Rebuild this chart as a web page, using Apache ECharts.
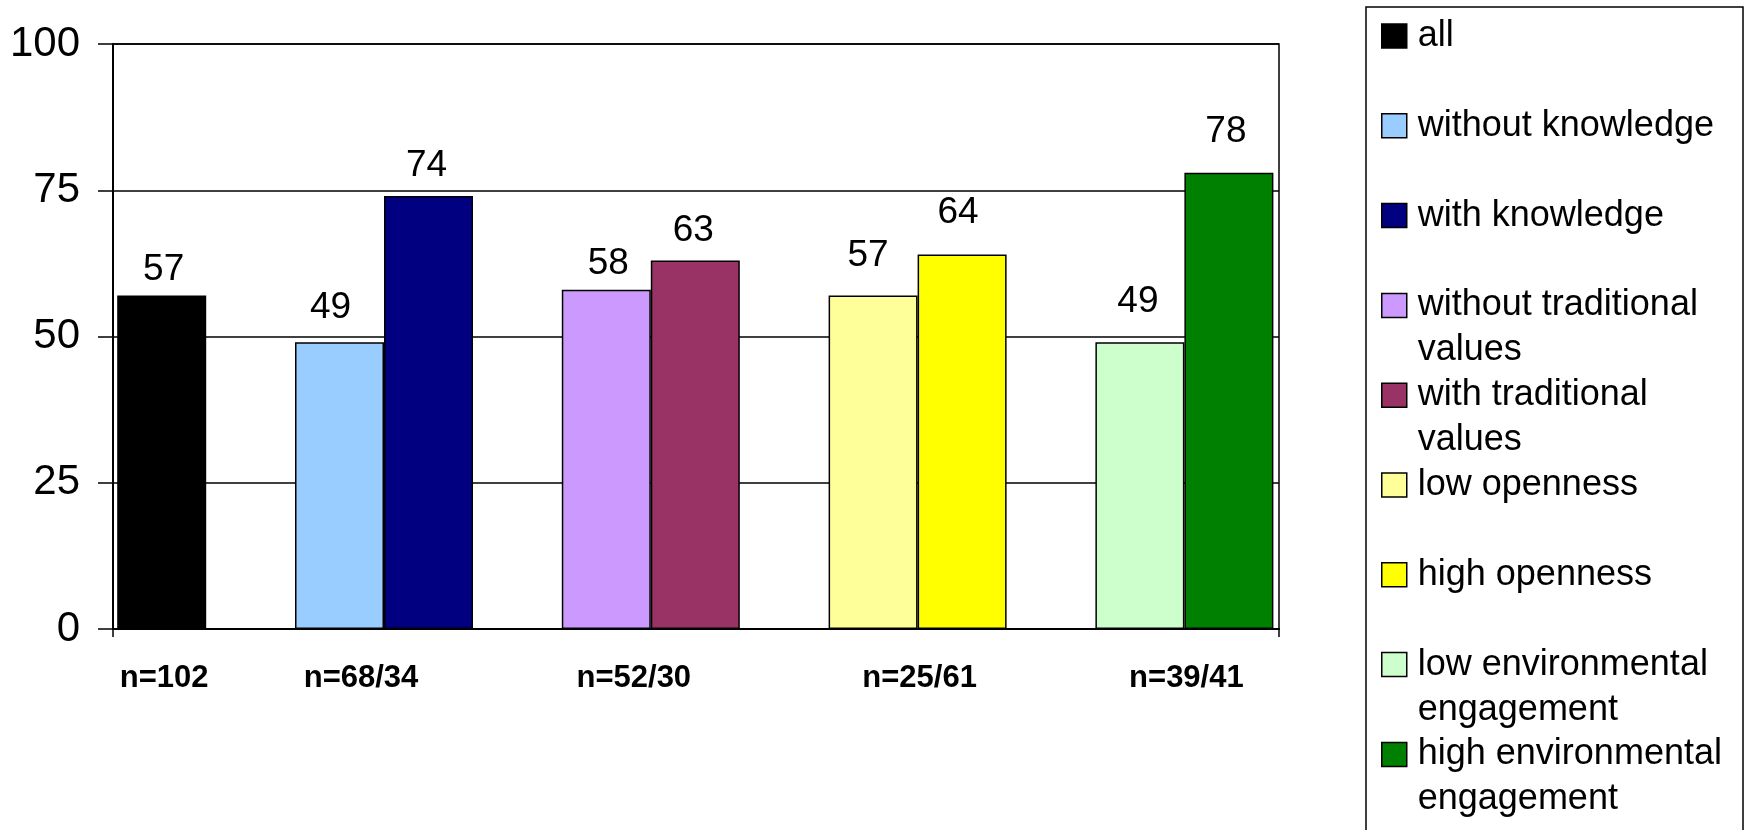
<!DOCTYPE html>
<html>
<head>
<meta charset="utf-8">
<title>Share by group</title>
<script src="https://cdn.jsdelivr.net/npm/echarts@6/dist/echarts.min.js"></script>
<style>
  html, body { margin: 0; padding: 0; background: #fff; }
  #chart { width: 1749px; height: 830px; }
</style>
</head>
<body>
<div id="chart"></div>
<script>
// ---- data ----
const groups = ['n=102', 'n=68/34', 'n=52/30', 'n=25/61', 'n=39/41'];
const seriesNames = [
  'all',
  'without knowledge',
  'with knowledge',
  'without traditional values',
  'with traditional values',
  'low openness',
  'high openness',
  'low environmental engagement',
  'high environmental engagement'
];
const seriesGroup = [0, 1, 1, 2, 2, 3, 3, 4, 4];
const seriesValues = [57, 49, 74, 58, 63, 57, 64, 49, 78];
const yTicks = [0, 25, 50, 75, 100];

// ---- styling ----
const FONT = 'Liberation Sans, Arial, Helvetica, sans-serif';
const colors = ['#000000', '#99CCFF', '#000080', '#CC99FF', '#993366',
                '#FFFF99', '#FFFF00', '#CCFFCC', '#008000'];
// left / right slot of each pair inside its group
const slot = ['R', 'L', 'R', 'L', 'R', 'L', 'R', 'L', 'R'];
const labelLift = [7.5, 16, 12, 7, 11, 21, 23, 22, 22.5];
const labelShift = [2, -9, -2, 2, -2, -5, -4, -2, -3];
const groupLabelShift = [47, -23, -17, 2, 2];

// plot frame
const PLOT = { left: 113, top: 44, width: 1166, height: 585 };
// bar band: five groups of (bar, bar, gap)
const BAND = { left: -16.2, width: 1334 };
const BAR_W = 89;

// series order: left-slot stacks first so they take the left position
const order = seriesNames.map((_, i) => i)
  .sort((a, b) => (slot[a] === 'L' ? 0 : 1) - (slot[b] === 'L' ? 0 : 1));

const series = order.map(i => ({
  type: 'bar',
  name: seriesNames[i],
  xAxisIndex: 1,
  yAxisIndex: 1,
  stack: slot[i],
  barWidth: BAR_W,
  barGap: 0,
  data: groups.map((g, k) => (k === seriesGroup[i] ? seriesValues[i] : '-')),
  itemStyle: { color: colors[i], borderColor: '#000', borderWidth: 1.5 },
  label: {
    show: true,
    position: 'top',
    distance: labelLift[i],
    offset: [labelShift[i], 0],
    fontSize: 37,
    fontFamily: FONT,
    color: '#000'
  },
  emphasis: { disabled: true }
}));

// legend entries stacked down the right-hand box; long names wrap onto a
// second line that hangs below the swatch (a blank first line keeps the
// swatch level with the first line of text)
const isLong = name => name.split(' ').length > 2;
const legendText = name => {
  if (!isLong(name)) return name;
  const w = name.split(' ');
  return '\n' + w.slice(0, -1).join(' ') + '\n' + w[w.length - 1];
};
const legends = seriesNames.map((name, i) => {
  const wrapped = isLong(name);
  const centre = 36 + i * 89.8;
  return {
    data: [name],
    orient: 'vertical',
    left: 1381,
    top: centre - (wrapped ? 67.5 : 22.5),
    padding: 0,
    icon: 'rect',
    itemWidth: 25,
    itemHeight: 24,
    selectedMode: false,
    formatter: legendText,
    itemStyle: { borderColor: '#000', borderWidth: 1.5 },
    textStyle: {
      fontSize: 36,
      lineHeight: 45,
      fontFamily: FONT,
      color: '#000',
      padding: [0, 0, 0, 6]
    }
  };
});

const option = {
  backgroundColor: '#ffffff',
  animation: false,
  grid: [
    {
      left: PLOT.left, top: PLOT.top, width: PLOT.width, height: PLOT.height,
      show: true, borderColor: '#000', borderWidth: 1.5,
      containLabel: false, outerBoundsMode: 'none'
    },
    {
      left: BAND.left, top: PLOT.top, width: BAND.width, height: PLOT.height,
      containLabel: false, outerBoundsMode: 'none'
    }
  ],
  xAxis: [
    {
      gridIndex: 0,
      type: 'category',
      data: [''],
      boundaryGap: true,
      axisLine: { show: true, lineStyle: { color: '#000', width: 2 } },
      axisTick: { show: true, length: 8, lineStyle: { color: '#000', width: 1.5 } },
      axisLabel: { show: false },
      splitLine: { show: false }
    },
    {
      gridIndex: 1,
      type: 'category',
      data: groups.map((g, k) => {
        const d = groupLabelShift[k];
        return {
          value: g,
          textStyle: { padding: d >= 0 ? [0, 0, 0, 2 * d] : [0, -2 * d, 0, 0] }
        };
      }),
      axisLine: { show: false },
      axisTick: { show: false },
      axisLabel: {
        interval: 0,
        margin: 34,
        fontSize: 31,
        fontWeight: 'bold',
        fontFamily: FONT,
        color: '#000'
      },
      splitLine: { show: false }
    }
  ],
  yAxis: [
    {
      gridIndex: 0,
      type: 'value',
      min: yTicks[0],
      max: yTicks[yTicks.length - 1],
      interval: yTicks[1] - yTicks[0],
      axisLine: { show: true, lineStyle: { color: '#000', width: 2 } },
      axisTick: { show: true, length: 15, lineStyle: { color: '#000', width: 1.5 } },
      axisLabel: { margin: 33, fontSize: 42, fontFamily: FONT, color: '#000' },
      splitLine: { show: true, lineStyle: { color: '#000', width: 1.5 } }
    },
    {
      gridIndex: 1,
      type: 'value',
      min: yTicks[0],
      max: yTicks[yTicks.length - 1],
      interval: yTicks[1] - yTicks[0],
      axisLine: { show: false },
      axisTick: { show: false },
      axisLabel: { show: false },
      splitLine: { show: false }
    }
  ],
  legend: legends,
  graphic: [
    {
      type: 'rect',
      silent: true,
      shape: { x: 1366, y: 7, width: 377, height: 900 },
      style: { fill: 'none', stroke: '#000', lineWidth: 1.5 }
    }
  ],
  series: series
};

const chart = echarts.init(document.getElementById('chart'), null, { renderer: 'canvas' });
chart.setOption(option);
</script>
</body>
</html>
